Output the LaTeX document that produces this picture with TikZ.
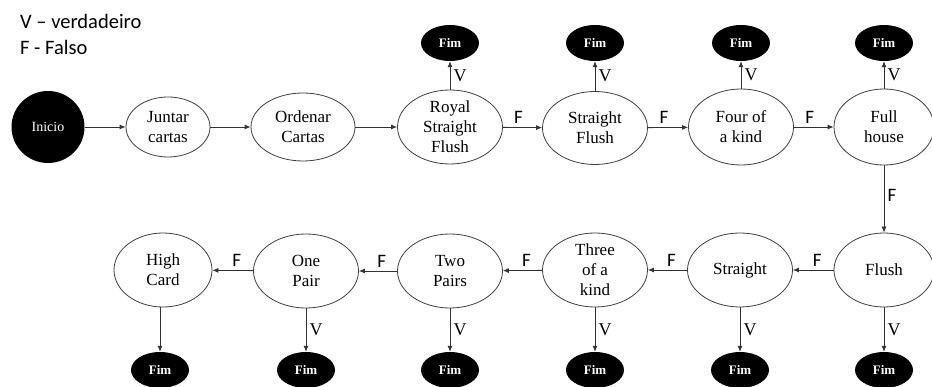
\documentclass[tikz,border=0pt]{standalone}
\usepackage{fontspec}
\setmainfont{Liberation Serif}
\newfontfamily\legendfont{Carlito}
\usetikzlibrary{shapes.geometric,arrows.meta}
\begin{document}
\begin{tikzpicture}[x=1pt,y=-1pt,
  st/.style={ellipse,draw=black!75,line width=0.8pt,fill=white,inner sep=0pt,
    minimum width=105pt,minimum height=74pt,align=center,font=\fontsize{17}{20}\selectfont},
  fim/.style={ellipse,fill=black,text=white,inner sep=0pt,minimum width=58pt,minimum height=36pt,
    font=\fontsize{13}{14}\selectfont\bfseries},
  arr/.style={draw=black!80,line width=0.8pt,-{Latex[length=6pt,width=5pt]}},
  lab/.style={font=\legendfont\fontsize{19}{20}\selectfont},
  leg/.style={font=\legendfont\fontsize{20.5}{22}\selectfont},
  vlab/.style={font=\fontsize{18}{20}\selectfont}]
\useasboundingbox (0,0) rectangle (932,387);
% legend
\node[leg,anchor=base west,inner sep=0pt] (l1) at (20,29) {V – verdadeiro};
\node[leg,anchor=base west,inner sep=0pt] (l2) at (20,55) {F - Falso};
% top row
\node[ellipse,fill=black,text=white,minimum width=73pt,minimum height=72pt,inner sep=0pt,
  font=\fontsize{14}{16}\selectfont] (ini) at (48,127) {Inicio};
\node[st,minimum width=84pt,minimum height=60pt] (jun) at (168,127) {Juntar\\cartas};
\node[st,minimum width=104pt,minimum height=68pt] (ord) at (303,127) {Ordenar\\Cartas};
\node[st] (rsf) at (450,127) {Royal\\Straight\\Flush};
\node[st,minimum height=73pt] (sf) at (595,128) {Straight\\Flush};
\node[st,minimum height=76pt] (fok) at (741,127) {Four of\\a kind};
\node[st,minimum width=100pt,minimum height=76pt] (fh) at (884,127) {Full\\house};
% top Fim
\node[fim] (f1) at (450,43) {Fim};
\node[fim] (f2) at (595,43) {Fim};
\node[fim] (f3) at (741,43) {Fim};
\node[fim] (f4) at (884,43) {Fim};
% bottom row
\node[st,minimum width=100pt] (fl) at (884,270) {Flush};
\node[st] (str) at (740,270) {Straight};
\node[st] (tok) at (595,270) {Three\\of a\\kind};
\node[st] (tp) at (450,271) {Two\\Pairs};
\node[st] (op) at (306,271) {One\\Pair};
\node[st,minimum width=98pt] (hc) at (163,270) {High\\Card};
% bottom Fim
\node[fim] (b1) at (160,370) {Fim};
\node[fim] (b2) at (306,370) {Fim};
\node[fim] (b3) at (450,370) {Fim};
\node[fim] (b4) at (595,370) {Fim};
\node[fim] (b5) at (740,370) {Fim};
\node[fim] (b6) at (884,370) {Fim};
% top connectors
\draw[arr] (ini) -- (jun);
\draw[arr] (jun) -- (ord);
\draw[arr] (ord) -- (rsf);
\draw[arr] (rsf) -- node[lab,above,pos=0.4] (F1) {F} (sf);
\draw[arr] (sf) -- node[lab,above,pos=0.4] (F2) {F} (fok);
\draw[arr] (fok) -- node[lab,above,pos=0.4] (F3) {F} (fh);
\draw[arr] (rsf) -- node[vlab,right] (V1) {V} (f1);
\draw[arr] (sf) -- node[vlab,right] (V2) {V} (f2);
\draw[arr] (fok) -- node[vlab,right] (V3) {V} (f3);
\draw[arr] (fh) -- node[vlab,right] (V4) {V} (f4);
\draw[arr] (fh) -- node[lab,right,pos=0.45] (F4) {F} (fl);
% bottom connectors
\draw[arr] (fl) -- node[lab,above,pos=0.4] (F5) {F} (str);
\draw[arr] (str) -- node[lab,above,pos=0.4] (F6) {F} (tok);
\draw[arr] (tok) -- node[lab,above,pos=0.4] (F7) {F} (tp);
\draw[arr] (tp) -- node[lab,above,pos=0.4] (F8) {F} (op);
\draw[arr] (op) -- node[lab,above,pos=0.4] (F9) {F} (hc);
\draw[arr] (b1.north |- hc.south) -- (b1);
\draw[arr] (op) -- node[vlab,right] (V5) {V} (b2);
\draw[arr] (tp) -- node[vlab,right] (V6) {V} (b3);
\draw[arr] (tok) -- node[vlab,right] (V7) {V} (b4);
\draw[arr] (str) -- node[vlab,right] (V8) {V} (b5);
\draw[arr] (fl) -- node[vlab,right] (V9) {V} (b6);
\end{tikzpicture}
\end{document}
